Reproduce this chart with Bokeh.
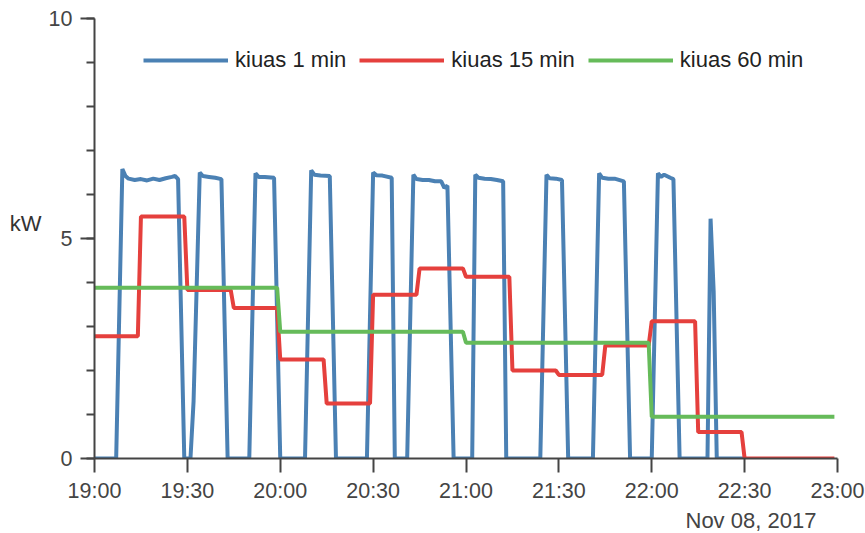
from datetime import datetime, timedelta
from bokeh.plotting import figure
from bokeh.models import Range1d, FixedTicker, SingleIntervalTicker, DatetimeTickFormatter, Title
from bokeh.embed import file_html
from bokeh.resources import INLINE

# ---- data ----
base_time = datetime(2017, 11, 8, 19, 0)

# 1-minute series: vertices (minutes after 19:00, kW)
blue_min = [0, 7, 9, 10, 11, 13, 15, 17, 19, 21, 23, 25, 26, 27, 29,
            31, 32, 34, 35, 37, 39, 41, 43,
            50, 52, 53, 55, 58, 60,
            68, 70, 71, 73, 76, 78,
            88, 90, 91, 93, 96, 97,
            101, 103, 104, 106, 108, 110, 112, 113, 114, 116,
            122, 123, 124, 126, 128, 130, 132, 133,
            144, 146, 147, 149, 151, 153,
            161, 163, 164, 166, 168, 171, 173,
            180, 182, 183, 184, 186, 187, 189,
            198, 199, 200, 201, 210]
blue_kw = [0, 0, 6.58, 6.42, 6.36, 6.33, 6.35, 6.32, 6.36, 6.33, 6.37, 6.4, 6.42, 6.35, 0,
           0, 1.3, 6.5, 6.42, 6.4, 6.38, 6.35, 0,
           0, 6.48, 6.4, 6.4, 6.38, 0,
           0, 6.55, 6.45, 6.43, 6.42, 0,
           0, 6.5, 6.44, 6.43, 6.38, 0,
           0, 6.45, 6.35, 6.33, 6.33, 6.3, 6.3, 6.15, 6.2, 0,
           0, 6.45, 6.38, 6.36, 6.35, 6.33, 6.3, 0,
           0, 6.45, 6.37, 6.36, 6.33, 0,
           0, 6.48, 6.38, 6.36, 6.36, 6.3, 0,
           0, 6.48, 6.4, 6.45, 6.38, 6.35, 0,
           0, 5.45, 3.8, 0, 0]

# 15-minute averages (block start in minutes after 19:00, kW)
red_start = [0, 15, 30, 45, 60, 75, 90, 105, 120, 135, 150, 165, 180, 195, 210, 225]
red_kw = [2.78, 5.5, 3.83, 3.42, 2.25, 1.25, 3.72, 4.32, 4.13, 2.0, 1.9, 2.57, 3.12, 0.6, 0, 0]

# 60-minute averages
green_start = [0, 60, 120, 180]
green_kw = [3.88, 2.88, 2.63, 0.95]

tick_min = [0, 30, 60, 90, 120, 150, 180, 210, 240]
series_names = ["kiuas 1 min", "kiuas 15 min", "kiuas 60 min"]
y_label = "kW"
context_text = "Nov 08, 2017"

# ---- build ----
def t(m):
    return base_time + timedelta(minutes=m)

def steps(starts, vals, length):
    xs, ys = [], []
    for s, v in zip(starts, vals):
        xs += [t(s), t(s + length - 1)]
        ys += [v, v]
    return xs, ys

bx = [t(m) for m in blue_min]
rx, ry = steps(red_start, red_kw, 15)
gx, gy = steps(green_start, green_kw, 60)

FONT = "Liberation Sans"

p = figure(width=865, height=533, x_axis_type="datetime",
           x_range=Range1d(t(0), t(240)), y_range=Range1d(0, 10),
           output_backend="svg", toolbar_location=None,
           min_border_left=94, min_border_right=28, min_border_top=18, min_border_bottom=75)

p.line(bx, blue_kw, line_color="#4b81b4", line_width=4, legend_label=series_names[0])
p.line(rx, ry, line_color="#e5403d", line_width=4, legend_label=series_names[1])
p.line(gx, gy, line_color="#66bb5a", line_width=4, legend_label=series_names[2])

p.grid.visible = False
p.outline_line_color = None
p.background_fill_color = "white"
p.border_fill_color = "white"

ms = [(t(m) - datetime(1970, 1, 1)).total_seconds() * 1000 for m in tick_min]
p.xaxis.ticker = FixedTicker(ticks=ms)
p.xaxis.formatter = DatetimeTickFormatter(minsec="%H:%M", minutes="%H:%M",
                                          hourmin="%H:%M", hours="%H:%M", days="%H:%M")
p.yaxis.ticker = SingleIntervalTicker(interval=5, num_minor_ticks=5)

for ax in (p.xaxis, p.yaxis):
    ax.axis_line_color = "#444444"
    ax.axis_line_width = 2
    ax.major_tick_line_color = "#444444"
    ax.major_tick_line_width = 2
    ax.minor_tick_line_color = "#444444"
    ax.minor_tick_line_width = 2
    ax.major_tick_in = 0
    ax.minor_tick_in = 0
    ax.major_tick_out = 14
    ax.minor_tick_out = 8
    ax.major_label_text_font = FONT
    ax.major_label_text_font_size = "21.5px"
    ax.major_label_text_color = "#444444"
    ax.major_label_standoff = 8
p.xaxis.minor_tick_line_color = None
p.xaxis.major_label_standoff = 6

# trailing blank line lifts the horizontal label slightly above the axis middle
p.yaxis.axis_label = y_label + "\n "
p.yaxis.axis_label_orientation = "horizontal"
p.yaxis.axis_label_text_font = FONT
p.yaxis.axis_label_text_font_style = "normal"
p.yaxis.axis_label_text_font_size = "22px"
p.yaxis.axis_label_text_color = "#333333"
p.yaxis.axis_label_standoff = 4

lg = p.legend[0]
lg.orientation = "horizontal"
lg.location = (49, 385)
lg.border_line_color = None
lg.background_fill_alpha = 0
lg.padding = 0
lg.margin = 0
lg.spacing = 13
lg.glyph_width = 85
lg.label_standoff = 7
lg.label_text_font = FONT
lg.label_text_font_size = "22px"
lg.label_text_color = "#222222"

ctx = Title(text=context_text, align="left", offset=591, standoff=0,
            text_font=FONT, text_font_size="22px", text_font_style="normal",
            text_color="#444444")
p.add_layout(ctx, "below")

open("out.html", "w").write(file_html(p, INLINE))
